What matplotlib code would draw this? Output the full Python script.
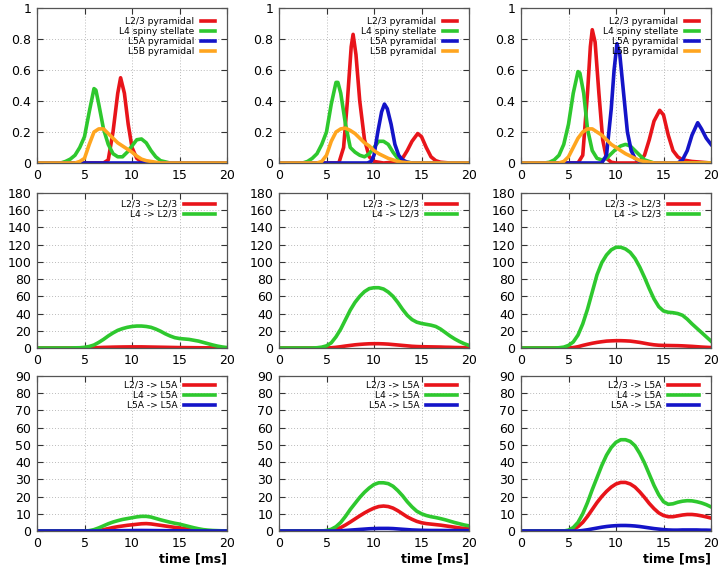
import numpy as np
import matplotlib
matplotlib.use("Agg")
import matplotlib.pyplot as plt
from matplotlib.ticker import FormatStrFormatter, MultipleLocator

# ---------------- data ----------------
RED, GREEN, BLUE, ORANGE = "#e8141a", "#2ec82e", "#1414c8", "#ffa51f"

top_labels = ["L2/3 pyramidal", "L4 spiny stellate", "L5A pyramidal", "L5B pyramidal"]

# top row: (time, value) pairs per series, per column
top_red_1_t = [0, 7.0, 7.5, 8.0, 8.5, 8.8, 9.2, 9.6, 10.0, 10.5, 11.0, 12.0, 20]
top_red_1_y = [0, 0.0, 0.02, 0.2, 0.45, 0.55, 0.45, 0.25, 0.1, 0.03, 0.01, 0.0, 0]
top_green_1_t = [0, 2.5, 3, 3.5, 4, 4.5, 5, 5.5, 6, 6.2, 6.5, 7, 7.5, 8, 8.5, 9, 9.5, 10, 10.5, 11, 11.5, 12, 12.5, 13, 14, 20]
top_green_1_y = [0, 0, 0.01, 0.025, 0.05, 0.1, 0.17, 0.33, 0.48, 0.47, 0.38, 0.22, 0.12, 0.06, 0.04, 0.04, 0.07, 0.11, 0.15, 0.155, 0.13, 0.08, 0.04, 0.015, 0, 0]
top_blue_1_t = [0, 20]
top_blue_1_y = [0, 0]
top_orange_1_t = [0, 4, 4.5, 5, 5.5, 6, 6.5, 7, 7.5, 8, 8.5, 9, 9.5, 10, 10.5, 11, 11.5, 12, 13, 20]
top_orange_1_y = [0, 0, 0.01, 0.03, 0.12, 0.2, 0.22, 0.22, 0.19, 0.16, 0.13, 0.11, 0.09, 0.07, 0.045, 0.025, 0.015, 0.01, 0, 0]

top_red_2_t = [0, 6.3, 6.8, 7.2, 7.6, 7.8, 8.1, 8.5, 9.0, 9.5, 10, 11, 12, 12.5, 13, 13.5, 14, 14.6, 15, 15.5, 16, 16.5, 17, 18, 20]
top_red_2_y = [0, 0, 0.1, 0.4, 0.75, 0.83, 0.7, 0.4, 0.15, 0.04, 0.01, 0, 0.005, 0.01, 0.03, 0.08, 0.14, 0.19, 0.17, 0.1, 0.04, 0.015, 0.005, 0, 0]
top_green_2_t = [0, 2.5, 3, 3.5, 4, 4.5, 5, 5.5, 6, 6.2, 6.5, 7, 7.5, 8, 8.5, 9, 9.5, 10, 10.5, 11, 11.5, 12, 12.5, 13, 14, 20]
top_green_2_y = [0, 0, 0.01, 0.03, 0.06, 0.12, 0.2, 0.38, 0.52, 0.52, 0.45, 0.25, 0.1, 0.07, 0.05, 0.04, 0.06, 0.1, 0.14, 0.14, 0.12, 0.07, 0.03, 0.01, 0, 0]
top_blue_2_t = [0, 9.3, 9.7, 10, 10.4, 10.8, 11.1, 11.4, 11.8, 12.2, 12.6, 13, 13.5, 14, 20]
top_blue_2_y = [0, 0, 0.01, 0.05, 0.2, 0.33, 0.38, 0.35, 0.25, 0.12, 0.05, 0.02, 0.005, 0, 0]
top_orange_2_t = [0, 4, 4.5, 5, 5.5, 6, 6.5, 7, 7.5, 8, 8.5, 9, 9.5, 10, 10.5, 11, 11.5, 12, 12.5, 13, 14, 20]
top_orange_2_y = [0, 0, 0.01, 0.05, 0.14, 0.2, 0.22, 0.225, 0.21, 0.19, 0.16, 0.13, 0.11, 0.08, 0.06, 0.045, 0.03, 0.02, 0.01, 0.005, 0, 0]

top_red_3_t = [0, 6, 6.5, 7, 7.3, 7.5, 7.8, 8.2, 8.6, 9, 9.5, 10, 12, 12.5, 13, 13.5, 14, 14.6, 15, 15.5, 16, 16.5, 17, 18, 19, 20]
top_red_3_y = [0, 0, 0.05, 0.45, 0.75, 0.86, 0.78, 0.45, 0.15, 0.03, 0.005, 0, 0, 0.01, 0.05, 0.15, 0.27, 0.34, 0.31, 0.18, 0.08, 0.04, 0.02, 0.01, 0.005, 0]
top_green_3_t = [0, 2.5, 3, 3.5, 4, 4.5, 5, 5.5, 6, 6.2, 6.6, 7, 7.5, 8, 8.5, 9, 9.5, 10, 10.5, 11, 11.5, 12, 12.5, 13, 13.5, 14, 20]
top_green_3_y = [0, 0, 0.005, 0.02, 0.05, 0.12, 0.25, 0.45, 0.59, 0.58, 0.45, 0.22, 0.08, 0.03, 0.02, 0.03, 0.06, 0.09, 0.11, 0.12, 0.11, 0.08, 0.05, 0.02, 0.01, 0, 0]
top_blue_3_t = [0, 8.5, 9, 9.5, 9.8, 10.1, 10.4, 10.8, 11.2, 11.6, 12, 12.5, 13, 14, 16.5, 17, 17.5, 18, 18.6, 19, 19.5, 20]
top_blue_3_y = [0, 0, 0.05, 0.35, 0.6, 0.77, 0.7, 0.45, 0.2, 0.08, 0.03, 0.01, 0.005, 0, 0, 0.02, 0.08, 0.18, 0.26, 0.22, 0.16, 0.12]
top_orange_3_t = [0, 4, 4.5, 5, 5.5, 6, 6.5, 7, 7.5, 8, 8.5, 9, 9.5, 10, 10.5, 11, 11.5, 12, 12.5, 13, 13.5, 14, 20]
top_orange_3_y = [0, 0, 0.01, 0.04, 0.1, 0.16, 0.2, 0.22, 0.22, 0.2, 0.18, 0.15, 0.12, 0.1, 0.08, 0.06, 0.045, 0.03, 0.015, 0.01, 0.005, 0, 0]

# middle / bottom rows: sampled every 0.5 ms from 0 to 20
time_ms = [i * 0.5 for i in range(41)]

mid_labels = ["L2/3 -> L2/3", "L4 -> L2/3"]
mid_red_1 = [0]*12 + [0.3, 0.5, 0.7, 0.85, 1.0, 1.1, 1.2, 1.25, 1.3, 1.3, 1.3, 1.2, 1.1, 1.0, 0.9, 0.8, 0.7, 0.6, 0.5, 0.45, 0.4, 0.35, 0.3, 0.25, 0.2, 0.15, 0.1, 0.05, 0]
mid_green_1 = [0, 0, 0, 0, 0, 0, 0, 0, 0.2, 0.3, 0.8, 1.8, 3.5, 6.5, 10, 14, 17.5, 20.5, 22.5, 24, 25, 25.5, 25.5, 25, 24, 22, 19.5, 16.5, 14, 12, 11, 10.5, 10, 9, 8, 6.5, 5, 3.5, 2.2, 1.2, 0.5]
mid_red_2 = [0]*11 + [0.3, 0.8, 1.5, 2.3, 3, 3.7, 4.2, 4.6, 4.9, 5, 5, 4.8, 4.5, 4, 3.5, 3, 2.5, 2, 1.7, 1.5, 1.4, 1.3, 1.2, 1.1, 0.9, 0.8, 0.6, 0.5, 0.4, 0.3]
mid_green_2 = [0, 0, 0, 0, 0, 0, 0, 0, 0.3, 1, 2.5, 6, 13, 22, 33, 44, 53, 60, 65.5, 69, 70, 70, 68.5, 65, 60, 53, 45, 38, 33, 30, 28.5, 27.5, 26.5, 25, 22, 18, 14, 10.5, 7.5, 5, 3]
mid_red_3 = [0]*11 + [0.5, 1.5, 3, 4.3, 5.5, 6.5, 7.3, 8, 8.3, 8.5, 8.5, 8.3, 8, 7.3, 6.5, 5.5, 4.5, 3.7, 3.2, 3, 2.9, 2.8, 2.7, 2.5, 2.2, 1.9, 1.5, 1.1, 0.8, 0.5]
mid_green_3 = [0, 0, 0, 0, 0, 0, 0, 0, 0.3, 1, 3, 7, 15, 28, 45, 65, 85, 99, 108, 114, 117, 117, 115, 111, 104, 94, 82, 69, 57, 48, 43, 41.5, 41, 40, 38, 33.5, 28, 23, 18, 13, 8]

bot_labels = ["L2/3 -> L5A", "L4 -> L5A", "L5A -> L5A"]
bot_red_1 = [0]*13 + [0.3, 0.8, 1.4, 2, 2.5, 2.9, 3.3, 3.6, 3.9, 4.2, 4.3, 4.1, 3.7, 3.3, 2.9, 2.5, 2.1, 1.8, 1.4, 1.0, 0.7, 0.4, 0.2, 0.1, 0, 0, 0, 0]
bot_green_1 = [0]*11 + [0.2, 0.8, 1.8, 3, 4.2, 5.2, 6, 6.7, 7.2, 7.7, 8.2, 8.5, 8.5, 8.1, 7.3, 6.5, 5.8, 5.1, 4.5, 4, 3.3, 2.6, 1.9, 1.3, 0.8, 0.5, 0.3, 0.2, 0.1, 0]
bot_blue_1 = [0]*14 + [0.05, 0.08, 0.1, 0.15, 0.2, 0.22, 0.25, 0.28, 0.3, 0.28, 0.25, 0.22, 0.2, 0.18, 0.15, 0.12, 0.1, 0.08, 0.05, 0.03, 0.02, 0.01, 0, 0, 0, 0, 0]
bot_red_2 = [0]*11 + [0.3, 0.9, 2, 3.5, 5.2, 7, 8.8, 10.5, 12, 13.3, 14.2, 14.5, 14.2, 13.3, 11.8, 10, 8.2, 6.8, 5.6, 4.8, 4.3, 4, 3.7, 3.4, 3, 2.6, 2.2, 1.8, 1.5, 1.2]
bot_green_2 = [0]*10 + [0.3, 1, 2.5, 5, 8.5, 12.5, 16, 19.5, 22.5, 25, 27, 28, 28, 27.5, 26, 23.5, 20.5, 17, 14, 11.5, 10, 9, 8.3, 7.8, 7.2, 6.5, 5.7, 4.9, 4.2, 3.5, 3]
bot_blue_2 = [0]*13 + [0.1, 0.3, 0.5, 0.7, 0.9, 1.1, 1.3, 1.4, 1.5, 1.5, 1.5, 1.4, 1.2, 1.0, 0.8, 0.6, 0.5, 0.4, 0.35, 0.3, 0.3, 0.28, 0.26, 0.25, 0.24, 0.22, 0.21, 0.2]
bot_red_3 = [0]*11 + [1, 2.5, 5, 8.5, 12.5, 16.5, 20, 23, 25.5, 27.3, 28.2, 28.2, 27.3, 25.5, 22.7, 19.5, 16, 13, 10.5, 9, 8.3, 8.3, 8.8, 9.3, 9.6, 9.6, 9.3, 8.8, 8.2, 7.5]
bot_green_3 = [0]*10 + [0.5, 2, 5, 10, 16.5, 24, 31, 38, 44, 48.5, 51.5, 53, 53, 52, 49.5, 45, 39.5, 33, 26.5, 21, 17, 15.5, 15.8, 16.7, 17.3, 17.6, 17.5, 17, 16.3, 15.3, 14]
bot_blue_3 = [0]*13 + [0.3, 0.7, 1.2, 1.7, 2.2, 2.6, 2.9, 3.1, 3.2, 3.2, 3.1, 2.9, 2.6, 2.2, 1.8, 1.4, 1.1, 0.8, 0.6, 0.5, 0.5, 0.6, 0.6, 0.6, 0.6, 0.5, 0.5, 0.4]

x_ticks = [0, 5, 10, 15, 20]

# ---------------- figure ----------------
plt.rcParams["font.family"] = ["DejaVu Sans"]
fig = plt.figure(figsize=(7.23, 5.70), dpi=100)

lefts = [37/723, 279/723, 521/723]
AXW_PX, AXH_PX = 190, 155
width = AXW_PX/723
bottoms = [1 - 163/570, 1 - 348/570, 1 - 531/570]
height = AXH_PX/570

LW = 2.6
TICK_FS = 9
LEG_FS = 6.6


def style(ax, ymax, ystep, fmt):
    ax.set_xlim(0, 20)
    ax.set_ylim(0, ymax)
    ax.set_xticks(x_ticks)
    ax.yaxis.set_major_locator(MultipleLocator(ystep))
    ax.yaxis.set_major_formatter(FormatStrFormatter(fmt))
    ax.tick_params(direction="in", length=4, width=0.8, top=True, right=True,
                   labelsize=TICK_FS, color="#333333", pad=4)
    ax.grid(True, linestyle=(0, (1, 2)), color="#bbbbbb", linewidth=0.7)
    for s in ax.spines.values():
        s.set_color("#555555")
        s.set_linewidth(0.9)


def legend(ax, handle_px, top_px):
    fs_px = LEG_FS * 100 / 72
    leg = ax.legend(loc="upper right", frameon=False, fontsize=LEG_FS, markerfirst=False,
                    handlelength=handle_px / fs_px, handletextpad=0.7, labelspacing=0.1,
                    borderaxespad=0, borderpad=0,
                    bbox_to_anchor=(1 - 12 / AXW_PX, 1 - top_px / AXH_PX))
    for t in leg.get_texts():
        t.set_ha("right")
    return leg


tops = [
    [(top_red_1_t, top_red_1_y), (top_green_1_t, top_green_1_y), (top_blue_1_t, top_blue_1_y), (top_orange_1_t, top_orange_1_y)],
    [(top_red_2_t, top_red_2_y), (top_green_2_t, top_green_2_y), (top_blue_2_t, top_blue_2_y), (top_orange_2_t, top_orange_2_y)],
    [(top_red_3_t, top_red_3_y), (top_green_3_t, top_green_3_y), (top_blue_3_t, top_blue_3_y), (top_orange_3_t, top_orange_3_y)],
]
mids = [(mid_red_1, mid_green_1), (mid_red_2, mid_green_2), (mid_red_3, mid_green_3)]
bots = [(bot_red_1, bot_green_1, bot_blue_1), (bot_red_2, bot_green_2, bot_blue_2), (bot_red_3, bot_green_3, bot_blue_3)]

for c in range(3):
    # top row
    ax = fig.add_axes([lefts[c], bottoms[0], width, height])
    style(ax, 1.0, 0.2, "%g")
    for (tt, yy), col, lab in zip(tops[c], [RED, GREEN, BLUE, ORANGE], top_labels):
        ax.plot(tt, yy, color=col, lw=LW, label=lab, solid_joinstyle="round")
    legend(ax, 14, 9)

    # middle row
    ax = fig.add_axes([lefts[c], bottoms[1], width, height])
    style(ax, 180, 20, "%g")
    for yy, col, lab in zip(mids[c], [RED, GREEN], mid_labels):
        ax.plot(time_ms, yy, color=col, lw=LW, label=lab, solid_joinstyle="round")
    legend(ax, 31, 7)

    # bottom row
    ax = fig.add_axes([lefts[c], bottoms[2], width, height])
    style(ax, 90, 10, "%g")
    for yy, col, lab in zip(bots[c], [RED, GREEN, BLUE], bot_labels):
        ax.plot(time_ms, yy, color=col, lw=LW, label=lab, solid_joinstyle="round")
    legend(ax, 31, 5)
    ax.text(1.0, -28 / AXH_PX, "time [ms]", transform=ax.transAxes, ha="right", va="center",
            fontsize=9, fontweight="bold")

fig.savefig("out.png", dpi=100)
